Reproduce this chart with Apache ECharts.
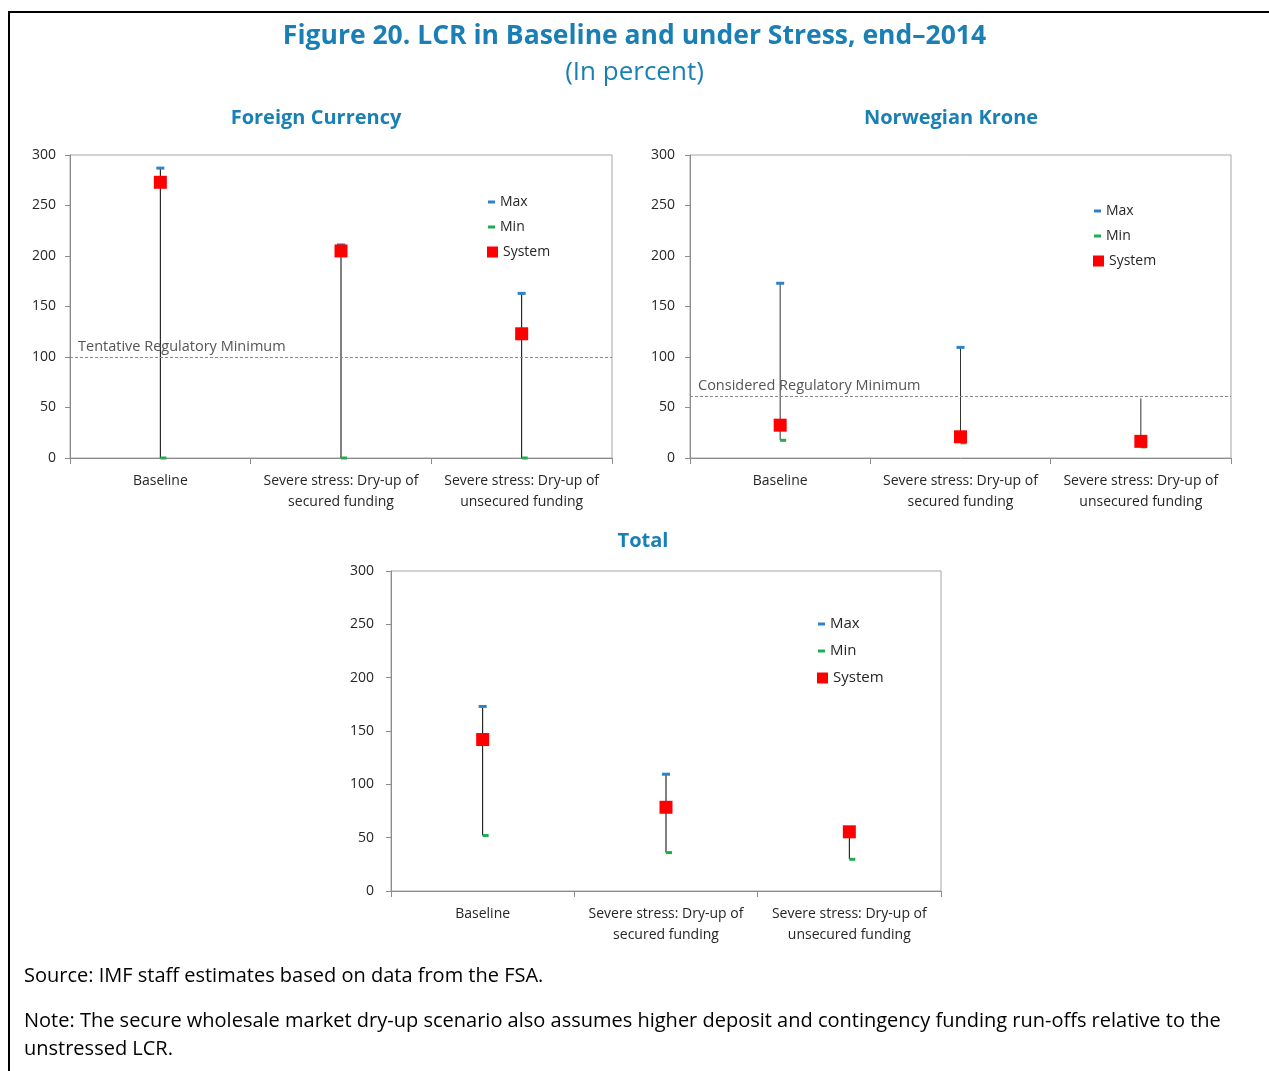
<!DOCTYPE html>
<html>
<head>
<meta charset="utf-8">
<script src="https://cdn.jsdelivr.net/npm/echarts@6/dist/echarts.min.js"></script>
<style>
  html, body { margin: 0; padding: 0; background: #fff; }
  #main { width: 1269px; height: 1071px; }
</style>
</head>
<body>
<div id="main"></div>
<script>
  // categories shared by the three panels
  var categories = ['Baseline', 'Severe stress: Dry-up of\nsecured funding', 'Severe stress: Dry-up of\nunsecured funding'];
  var yTicks = { min: 0, max: 300, interval: 50 };

  // Foreign Currency
  var fcMax = [287, 211, 163];
  var fcMin = [0, 0, 0];
  var fcSystem = [273, 205, 123];
  var fcTop = [287, 211, 163];
  var fcThreshold = 100;

  // Norwegian Krone
  var nkMax = [173, 109.5, null];
  var nkMin = [17.5, 15, 11];
  var nkSystem = [32.5, 21, 16.5];
  var nkTop = [173, 109.5, 59];
  var nkThreshold = 61;

  // Total
  var totMax = [173, 109.5, 57];
  var totMin = [52, 36, 29.7];
  var totSystem = [142, 78.5, 55.5];
  var totTop = [173, 109.5, 57];

  var teal = '#1a7fb5';
  var font = 'Open Sans';

  var chart = echarts.init(document.getElementById('main'));

  var grids = [
    { left: 70, top: 155, width: 542, height: 303 },
    { left: 690, top: 155, width: 541, height: 303 },
    { left: 391, top: 571, width: 550, height: 320 }
  ];

  function xAxisFor(i){
    return {
      type: 'category', gridIndex: i, data: categories,
      axisLine: { lineStyle: { color: '#8c8c8c' } },
      axisTick: { show: true, length: 6, lineStyle: { color: '#8c8c8c' } },
      axisLabel: { interval: 0, color: '#262626', fontSize: 14, lineHeight: 21, margin: 13, fontFamily: font }
    };
  }
  function yAxisFor(i, margin){
    return {
      type: 'value', gridIndex: i, min: yTicks.min, max: yTicks.max, interval: yTicks.interval,
      axisLine: { show: true, lineStyle: { color: '#8c8c8c' } },
      axisTick: { show: true, length: 5, lineStyle: { color: '#8c8c8c' } },
      splitLine: { show: false },
      axisLabel: { color: '#262626', fontSize: 14, margin: margin, fontFamily: font }
    };
  }

  function rangeSeries(i, mins, tops, color, threshold, label){
    var data = [];
    for (var k = 0; k < categories.length; k++) data.push([k, mins[k], tops[k]]);
    var s = {
      type: 'custom', xAxisIndex: i, yAxisIndex: i, silent: true, z: 1,
      encode: { x: 0, y: [1, 2] },
      data: data,
      renderItem: function (params, api) {
        var lo = api.coord([api.value(0), api.value(1)]);
        var hi = api.coord([api.value(0), api.value(2)]);
        return { type: 'line', shape: { x1: lo[0], y1: lo[1], x2: hi[0], y2: hi[1] },
                 style: { stroke: color, lineWidth: 1 } };
      }
    };
    if (threshold != null) {
      s.markLine = {
        silent: true, symbol: 'none', animation: false,
        lineStyle: { type: [3, 2], color: '#8a8a8a', width: 1 },
        label: { show: true, position: 'insideStartTop', formatter: label, color: '#555',
                 fontSize: 14.5, fontFamily: font, distance: [8, 3] },
        data: [{ yAxis: threshold }]
      };
    }
    return s;
  }
  function markSeries(i, name, values, symbol, size, color, offset, z){
    return {
      type: 'scatter', name: name, xAxisIndex: i, yAxisIndex: i, data: values,
      symbol: symbol, symbolSize: size, symbolOffset: offset || [0, 0], z: z,
      itemStyle: { color: color, opacity: 1 }, silent: true
    };
  }

  var blue = '#2e83c8', green = '#1fae4f', red = '#ff0000';

  var series = [
    rangeSeries(0, fcMin, fcTop, '#000', fcThreshold, 'Tentative Regulatory Minimum'),
    markSeries(0, 'Max', fcMax, 'rect', [8, 3], blue, [0, 0], 3),
    markSeries(0, 'Min', fcMin, 'rect', [6, 3], green, [3, 0], 3),
    markSeries(0, 'System', fcSystem, 'rect', [13, 13], red, [0, 0], 4),

    rangeSeries(1, nkMin, nkTop, '#333', nkThreshold, 'Considered Regulatory Minimum'),
    markSeries(1, 'Max', nkMax, 'rect', [8, 3], blue, [0, 0], 3),
    markSeries(1, 'Min', nkMin, 'rect', [6, 3], green, [3, 0], 3),
    markSeries(1, 'System', nkSystem, 'rect', [13, 13], red, [0, 0], 4),

    rangeSeries(2, totMin, totTop, '#000', null, ''),
    markSeries(2, 'Max', totMax, 'rect', [8, 3], blue, [0, 0], 3),
    markSeries(2, 'Min', totMin, 'rect', [6, 3], green, [3, 0], 3),
    markSeries(2, 'System', totSystem, 'rect', [13, 13], red, [0, 0], 4)
  ];

  function legendPair(left, top, gap, size){
    return [
      { orient: 'vertical', left: left, top: top, padding: 0, itemWidth: 7, itemHeight: 3, itemGap: gap,
        selectedMode: false, data: [{ name: 'Max', icon: 'rect' }, { name: 'Min', icon: 'rect' }],
        textStyle: { fontSize: size, lineHeight: 16, color: '#262626', fontFamily: font } },
      { orient: 'vertical', left: left - 1, top: top + 2 * (16 + gap), padding: 0, itemWidth: 11, itemHeight: 11,
        selectedMode: false, data: [{ name: 'System', icon: 'rect' }],
        textStyle: { fontSize: size, lineHeight: 16, color: '#262626', fontFamily: font } }
    ];
  }
  var legends = [].concat(legendPair(488, 194, 9, 14), legendPair(1094, 203, 9, 14), legendPair(818, 616, 11, 15));

  var option = {
    animation: false,
    backgroundColor: '#fff',
    textStyle: { fontFamily: font },
    title: [
      { text: 'Figure 20. LCR in Baseline and under Stress, end\u20132014', left: 'center', top: 20, padding: 0,
        textStyle: { color: teal, fontSize: 26.5, fontWeight: 'bold', lineHeight: 32, fontFamily: font } },
      { text: '(In percent)', left: 'center', top: 58, padding: 0,
        textStyle: { color: teal, fontSize: 26, fontWeight: 'normal', lineHeight: 30, fontFamily: font } },
      { text: 'Foreign Currency', left: 316, textAlign: 'center', top: 106, padding: 0,
        textStyle: { color: teal, fontSize: 20, fontWeight: 'bold', lineHeight: 24, fontFamily: font } },
      { text: 'Norwegian Krone', left: 951, textAlign: 'center', top: 106, padding: 0,
        textStyle: { color: teal, fontSize: 20, fontWeight: 'bold', lineHeight: 24, fontFamily: font } },
      { text: 'Total', left: 643, textAlign: 'center', top: 529, padding: 0,
        textStyle: { color: teal, fontSize: 20, fontWeight: 'bold', lineHeight: 24, fontFamily: font } },
      { text: 'Source: IMF staff estimates based on data from the FSA.', left: 24, top: 962, padding: 0,
        textStyle: { color: '#000', fontSize: 20, fontWeight: 'normal', lineHeight: 28, fontFamily: font } },
      { text: 'Note: The secure wholesale market dry-up scenario also assumes higher deposit and contingency funding run-offs relative to the\nunstressed LCR.',
        left: 24, top: 1007, padding: 0,
        textStyle: { color: '#000', fontSize: 20, fontWeight: 'normal', lineHeight: 28, fontFamily: font } }
    ],
    legend: legends,
    grid: grids.map(function (g) {
      return Object.assign({ show: true, borderColor: '#a6a6a6', borderWidth: 1, backgroundColor: 'transparent' }, g);
    }),
    xAxis: [xAxisFor(0), xAxisFor(1), xAxisFor(2)],
    yAxis: [yAxisFor(0, 14), yAxisFor(1, 15), yAxisFor(2, 17)],
    series: series,
    graphic: [
      // frame round the figure
      { type: 'line', shape: { x1: 8, y1: 12, x2: 1269, y2: 12 }, style: { stroke: '#000', lineWidth: 2 } },
      { type: 'line', shape: { x1: 9, y1: 11, x2: 9, y2: 1071 }, style: { stroke: '#000', lineWidth: 2 } }
    ]
  };
  chart.setOption(option);
</script>
</body>
</html>
